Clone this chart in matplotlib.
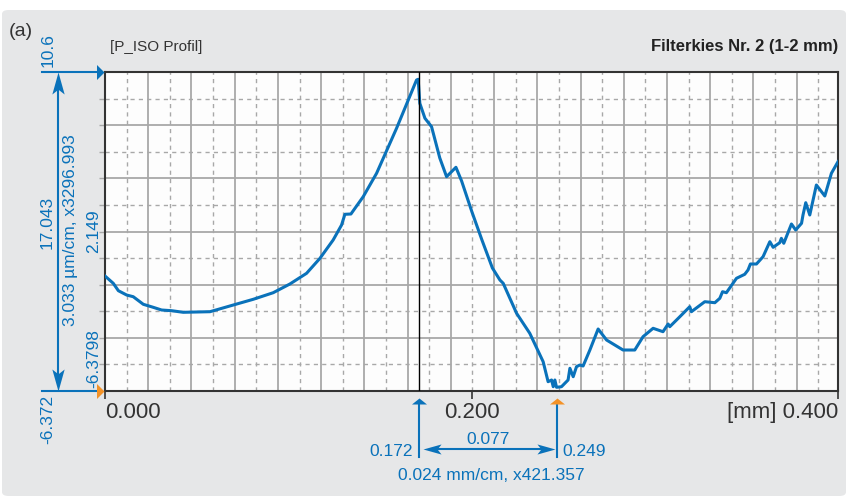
import numpy as np
import matplotlib.pyplot as plt
from matplotlib.lines import Line2D
from matplotlib.patches import FancyBboxPatch
from matplotlib.transforms import blended_transform_factory as blend

plt.rcParams["font.family"] = ["Liberation Sans", "DejaVu Sans"]

# %% profile (x in mm, y in µm)
profile_x = [
    0.0000, 0.0045, 0.0073, 0.0118, 0.0154, 0.0209, 0.0263, 0.0309, 0.0364, 0.0427,
    0.0573, 0.0700, 0.0809, 0.0918, 0.1009, 0.1100, 0.1173, 0.1245, 0.1291, 0.1309,
    0.1342, 0.1409, 0.1482, 0.1591, 0.1655, 0.1700, 0.1709, 0.1718, 0.1746, 0.1782,
    0.1827, 0.1864, 0.1915, 0.1946, 0.2002, 0.2057, 0.2114, 0.2155, 0.2173, 0.2246,
    0.2318, 0.2391, 0.2418, 0.2437, 0.2446, 0.2455, 0.2464, 0.2491, 0.2527, 0.2537,
    0.2555, 0.2573, 0.2591, 0.2609, 0.2646, 0.2691, 0.2737, 0.2827, 0.2891, 0.2936,
    0.2991, 0.3045, 0.3073, 0.3082, 0.3137, 0.3191, 0.3200, 0.3273, 0.3328, 0.3355,
    0.3370, 0.3391, 0.3446, 0.3491, 0.3509, 0.3522, 0.3555, 0.3591, 0.3628, 0.3646,
    0.3682, 0.3691, 0.3704, 0.3746, 0.3769, 0.3801, 0.3809, 0.3824, 0.3846, 0.3882,
    0.3928, 0.3964, 0.4000,
]
profile_y = [
    -0.254, -0.642, -1.036, -1.265, -1.355, -1.759, -1.919, -2.063, -2.100, -2.185,
    -2.153, -1.797, -1.493, -1.142, -0.679, -0.110, 0.688, 1.662, 2.460, 3.029,
    3.045, 3.965, 5.210, 7.605, 9.110, 10.174, 10.212, 8.935, 8.137, 7.690,
    6.024, 5.030, 5.530, 4.801, 3.167, 1.662, 0.172, -0.466, -0.642, -2.238,
    -3.302, -4.813, -5.877, -5.787, -6.143, -5.787, -6.175, -6.143, -5.787, -5.164,
    -5.611, -5.079, -4.989, -5.042, -4.191, -3.073, -3.659, -4.191, -4.191, -3.483,
    -3.036, -3.217, -2.807, -2.951, -2.419, -1.887, -2.153, -1.621, -1.674, -1.440,
    -1.089, -1.142, -0.376, -0.163, 0.066, 0.385, 0.385, 0.773, 1.571, 1.273,
    1.518, 1.752, 1.486, 2.513, 2.194, 2.550, 2.992, 3.646, 2.992, 4.588,
    4.003, 5.210, 5.828,
]

x_min, x_max = 0.0, 0.4
y_min, y_max = -6.372, 10.6
x_ticks = [0.0, 0.2, 0.4]
x_ticklabels = ["0.000", "0.200", "[mm] 0.400"]
cursor_x = [0.1712, 0.2468]
cursor_labels = ["0.172", "0.249"]
cursor_diff = "0.077"
x_scale = "0.024 mm/cm, x421.357"
y_scale = "3.033 µm/cm, x3296.993"
y_range = "17.043"
y_marks = [2.149, -6.3798]

blue = "#0a72ba"
orange = "#f39227"
dark = "#333333"
grid_c = "#a8a8a8"

W, H = 850, 499


def fx(p):
    return p / W


def fy(p):
    return 1 - p / H


# arrow heads as marker shapes, tip at the origin
head_right = [(0, 0), (-1, 1), (-1, -1), (0, 0)]
head_up_flat = [(0, 0), (1, -0.8), (-1, -0.8), (0, 0)]
stealth_up = [(0, 0), (0.28, -1), (0, -0.78), (-0.28, -1), (0, 0)]
stealth_down = [(x, -y) for x, y in stealth_up]
stealth_left = [(-y, x) for x, y in stealth_up]
stealth_right = [(y, x) for x, y in stealth_up]

# %%
fig = plt.figure(figsize=(W / 100, H / 100), dpi=100, facecolor="white")
fig.patches.append(
    FancyBboxPatch(
        (fx(2), fy(496)), 844 / W, 486 / H,
        boxstyle="round,pad=0,rounding_size=0.008",
        transform=fig.transFigure, fc="#e6e7e8", ec="none", zorder=-10,
    )
)

ax = fig.add_axes([fx(105), fy(391), 733 / W, 319 / H])
ax.set_facecolor("#fdfdfd")
ax.set_xlim(x_min, x_max)
ax.set_ylim(y_min, y_max)

# grid
x_step = 0.02359
y_step = (y_max - y_min) / 6
for xv in np.arange(x_step, x_max, x_step):
    ax.axvline(xv, color=grid_c, lw=1.3, zorder=1)
for xv in np.arange(x_step / 2, x_max, x_step):
    ax.axvline(xv, color=grid_c, lw=1, ls=(0, (3, 3)), zorder=1)
for yv in np.arange(y_min + y_step, y_max - 0.01, y_step):
    ax.axhline(yv, color=grid_c, lw=1.3, zorder=1)
for yv in np.arange(y_min + y_step / 2, y_max, y_step):
    ax.axhline(yv, color=grid_c, lw=1, ls=(0, (3, 3)), zorder=1)

ax.set_yticks(np.arange(y_min + y_step / 2, y_max, y_step / 2))
ax.tick_params(axis="y", length=4, width=1, color=grid_c, labelleft=False)

ax.set_xticks(x_ticks, x_ticklabels)
ax.tick_params(axis="x", length=6, width=1.2, color=dark, pad=2,
               labelsize=16, labelcolor=dark)
labels = ax.get_xticklabels()
labels[0].set_ha("left")
labels[2].set_ha("right")

for s in ax.spines.values():
    s.set_color(dark)
    s.set_linewidth(1.5)

ax.plot(profile_x, profile_y, color=blue, lw=2.2, zorder=3, solid_joinstyle="round")
ax.axvline(cursor_x[0], color="black", lw=1, zorder=4)

# %% titles
fig.text(fx(9), fy(31), "(a)", fontsize=14, color=dark, va="center")
fig.text(fx(110), fy(47), "[P_ISO Profil]", fontsize=11, color=dark, va="center")
fig.text(fx(838), fy(47), "Filterkies Nr. 2 (1-2 mm)", fontsize=12,
         fontweight="bold", color="#222222", va="center", ha="right")

# %% left (y) measurement
ty = blend(fig.transFigure, ax.transData)
for yv, hc in [(y_max, blue), (y_min, orange)]:
    fig.add_artist(Line2D([fx(42), fx(100)], [yv, yv], transform=ty, color=blue, lw=1.5))
    fig.add_artist(Line2D([fx(104)], [yv], transform=ty, marker=head_right, ms=10.8,
                          color=hc, mew=0))
fig.add_artist(Line2D([fx(58), fx(58)], [fy(85), fy(378)], color=blue, lw=1.5))
fig.add_artist(Line2D([fx(58)], [y_max], transform=ty, marker=stealth_up, ms=31.7,
                      color=blue, mew=0))
fig.add_artist(Line2D([fx(58)], [y_min], transform=ty, marker=stealth_down, ms=31.7,
                      color=blue, mew=0))

bt = dict(color=blue, fontsize=12.5, rotation=90)
fig.text(fx(48), fy(50.5), "10.6", ha="center", va="center", **bt)
fig.text(fx(47), fy(222), y_range, ha="center", va="center", **bt)
fig.text(fx(70.5), fy(230), y_scale, ha="center", va="center", **bt)
fig.text(fx(93.5), y_marks[0], "2.149", ha="center", va="center", transform=ty, **bt)
fig.text(fx(93.5), fy(388), "-6.3798", ha="center", va="bottom", **bt)
fig.text(fx(48), fy(395), "-6.372", ha="center", va="top", **bt)

# %% bottom (x) measurement
tx = blend(ax.transData, fig.transFigure)
for xv, hc in zip(cursor_x, [blue, orange]):
    fig.add_artist(Line2D([xv, xv], [fy(403), fy(457)], transform=tx, color=blue, lw=1.5))
    fig.add_artist(Line2D([xv], [fy(398)], transform=tx, marker=head_up_flat, ms=10.8,
                          color=hc, mew=0))
a0, a1 = cursor_x[0] + 0.0025, cursor_x[1] - 0.0012
fig.add_artist(Line2D([a0 + 0.005, a1 - 0.005], [fy(449), fy(449)], transform=tx,
                      color=blue, lw=1.5))
fig.add_artist(Line2D([a0], [fy(449)], transform=tx, marker=stealth_left, ms=26,
                      color=blue, mew=0))
fig.add_artist(Line2D([a1], [fy(449)], transform=tx, marker=stealth_right, ms=26,
                      color=blue, mew=0))

fig.text(cursor_x[0] - 0.003, fy(451), cursor_labels[0], transform=tx, color=blue,
         fontsize=12.5, ha="right", va="center")
fig.text(cursor_x[1] + 0.003, fy(451), cursor_labels[1], transform=tx, color=blue,
         fontsize=12.5, ha="left", va="center")
fig.text((cursor_x[0] + cursor_x[1]) / 2, fy(440), cursor_diff, transform=tx,
         color=blue, fontsize=12.5, ha="center", va="center")
fig.text(fx(491), fy(475), x_scale, color=blue, fontsize=12.5, ha="center", va="center")

fig.savefig("out.png", dpi=100, facecolor=fig.get_facecolor())
